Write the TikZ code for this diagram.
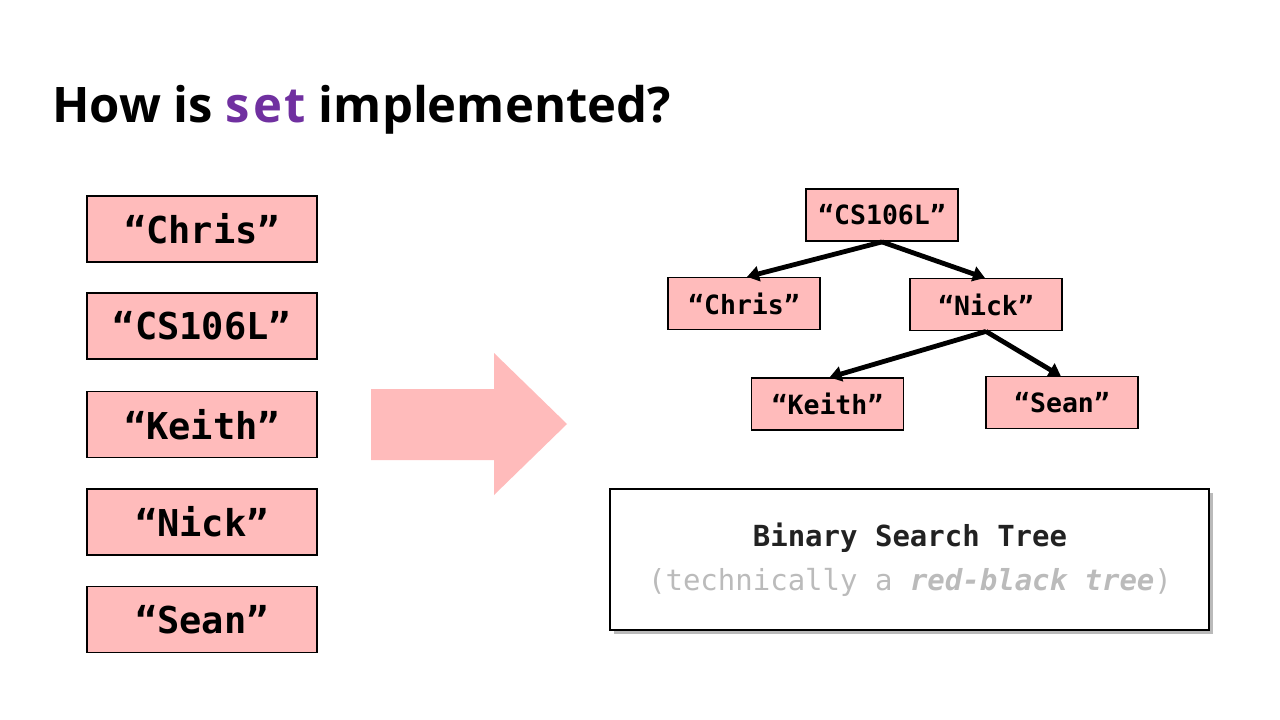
\documentclass[tikz,border=0pt]{standalone}
\usepackage{fontspec}
\setmainfont{Open Sans}
\setmonofont{DejaVu Sans Mono}
\usetikzlibrary{arrows.meta,shadows}
\definecolor{boxpink}{HTML}{FFBBBB}
\definecolor{setpurple}{HTML}{7030A0}
\definecolor{softgray}{HTML}{BBBBBB}
\definecolor{inkdark}{HTML}{222222}
\tikzset{
  word/.style={draw=black, line width=1.8pt, fill=boxpink, minimum width=230pt, minimum height=66pt,
    inner sep=0pt, font=\fontsize{37}{40}\selectfont\ttfamily\bfseries},
  treeword/.style={draw=black, line width=1.8pt, fill=boxpink, minimum width=152pt, minimum height=52pt,
    inner sep=0pt, font=\fontsize{26.5}{30}\selectfont\ttfamily\bfseries},
  edge/.style={line width=4.8pt, -{Triangle[length=12pt,width=15pt]}, shorten >=-1pt},
}
\begin{document}
\begin{tikzpicture}[x=1pt,y=-1pt]
\useasboundingbox[fill=white] (0,0) rectangle (1280,720);

% title
\node[anchor=base west, inner sep=0pt, font=\fontsize{49}{55}\selectfont\bfseries] (title) at (52,122)
  {How is \textcolor{setpurple}{\addfontfeature{LetterSpace=6}set} implemented?};

% the unordered values
\node[word] (c) at (202,229) {“Chris”};
\node[word] (cs) at (202,326) {“CS106L”};
\node[word] (k) at (202,424.5) {“Keith”};
\node[word] (n) at (202,522) {“Nick”};
\node[word] (s) at (202,619.5) {“Sean”};

% big arrow
\fill[boxpink] (371,389) -- (494,389) -- (494,353) -- (567,424) -- (494,495) -- (494,460) -- (371,460) -- cycle;

% the tree
\node[treeword] (t0) at (882,215) {“CS106L”};
\node[treeword] (t1) at (744,303.5) {“Chris”};
\node[treeword] (t2) at (986,304.5) {“Nick”};
\node[treeword] (t3) at (827.5,404) {“Keith”};
\node[treeword] (t4) at (1062,402.5) {“Sean”};
\draw[edge] (t0.south) -- ([xshift=4pt]t1.north);
\draw[edge] (t0.south) -- ([xshift=-2pt]t2.north);
\draw[edge] (t2.south) -- ([xshift=3pt]t3.north);
\draw[edge] (t2.south) -- ([xshift=-2pt]t4.north);

% caption box
\node[draw=black, line width=1.8pt, fill=white, minimum width=599pt, minimum height=141pt,
  drop shadow={shadow xshift=4pt, shadow yshift=-4pt, fill=black!45, opacity=0.6}] (cap) at (909.5,559.5) {};
\node[anchor=base, inner sep=0pt, text=inkdark, font=\fontsize{29}{32}\selectfont\ttfamily\bfseries] (cap1) at (910,546)
  {Binary Search Tree};
\node[anchor=base, inner sep=0pt, text=softgray, font=\fontsize{29}{32}\selectfont\ttfamily] (cap2) at (910,590)
  {(technically a \textbf{\textit{red-black tree}})};
\end{tikzpicture}
\end{document}
